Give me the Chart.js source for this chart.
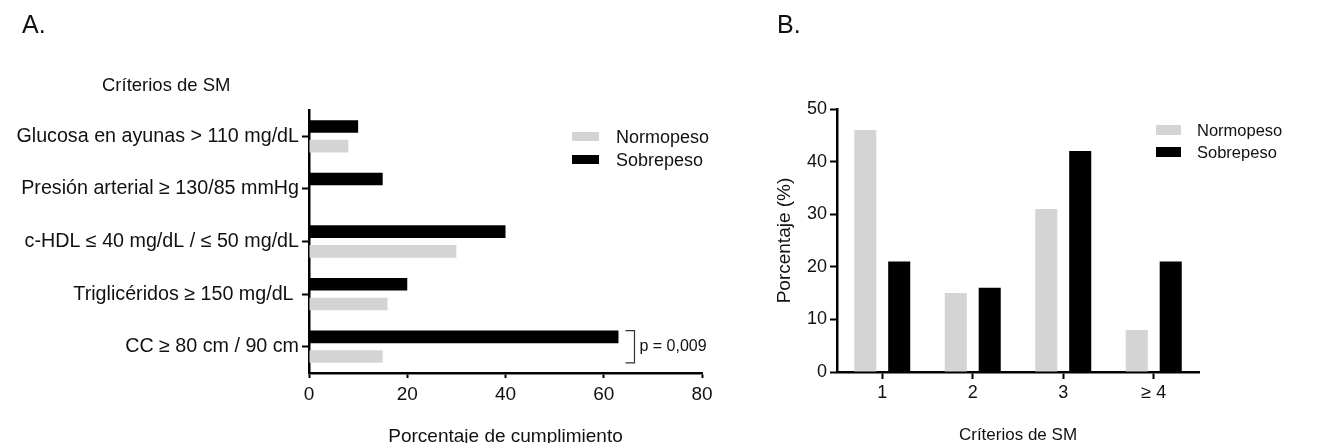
<!DOCTYPE html>
<html><head><meta charset="utf-8">
<script src="https://cdn.jsdelivr.net/npm/chart.js@4.4.0/dist/chart.umd.min.js"></script>
<style>
html,body{margin:0;padding:0;background:#fff;overflow:hidden;width:1328px;height:443px;}
body{position:relative;font-family:"Liberation Sans",Arial,sans-serif;color:#111;}
.abs{position:absolute;white-space:nowrap;}
#ca{position:absolute;left:0;top:0;}
#cb{position:absolute;left:760px;top:0;}
.panel{font-size:25px;line-height:25px;}
.sw{position:absolute;}
</style></head><body>
<canvas id="ca" width="760" height="460"></canvas>
<canvas id="cb" width="568" height="460"></canvas>
<div class="abs panel" style="left:22px;top:12px;">A.</div>
<div class="abs panel" style="left:777px;top:12px;">B.</div>
<div class="abs" id="titleA" style="left:102px;top:76px;font-size:18.5px;line-height:18px;"></div>
<div id="legA"></div>
<div id="legB"></div>
<script>
// ---- data ----
const seriesNames = ['Normopeso', 'Sobrepeso'];
const seriesColors = ['#d4d4d4', '#000000'];
const criteriaTitle = 'Críterios de SM';
const criteriaLabels = ['Glucosa en ayunas > 110 mg/dL', 'Presión arterial ≥ 130/85 mmHg', 'c-HDL ≤ 40 mg/dL / ≤ 50 mg/dL', 'Triglicéridos ≥ 150 mg/dL ', 'CC ≥ 80 cm / 90 cm'];
const criteriaNormopeso = [8, 0, 30, 16, 15];
const criteriaSobrepeso = [10, 15, 40, 20, 63];
const xTicksA = [0, 20, 40, 60, 80];
const xTitleA = 'Porcentaje de cumplimiento';
const pValueText = 'p = 0,009';
const countLabels = ['1', '2', '3', '≥ 4'];
const countNormopeso = [46, 15, 31, 8];
const countSobrepeso = [21, 16, 42, 21];
const yTicksB = [0, 10, 20, 30, 40, 50];
const yTitleB = 'Porcentaje (%)';
const xTitleB = 'Críterios de SM';

Chart.defaults.font.family = '"Liberation Sans", Arial, sans-serif';
Chart.defaults.color = '#111';
Chart.defaults.animation = false;

document.getElementById('titleA').textContent = criteriaTitle;

function makeLegend(id, left, swW, swH, textLeft, centers, fontSize) {
  const el = document.getElementById(id);
  seriesNames.forEach((n, i) => {
    const sw = document.createElement('div');
    sw.className = 'sw';
    sw.style.cssText = `left:${left}px;top:${centers[i] - swH / 2}px;width:${swW}px;height:${swH}px;background:${seriesColors[i]};`;
    el.appendChild(sw);
    const t = document.createElement('div');
    t.className = 'abs';
    t.style.cssText = `left:${textLeft}px;top:${centers[i] - fontSize / 2}px;font-size:${fontSize}px;line-height:${fontSize}px;`;
    t.textContent = n;
    el.appendChild(t);
  });
}
makeLegend('legA', 572, 27, 9, 616, [136.5, 159.5], 18);
makeLegend('legB', 1156, 25, 10, 1197, [130, 152], 16.5);

const bracketPlugin = {
  id: 'bracket',
  afterDraw(chart) {
    const ctx = chart.ctx;
    const last = criteriaLabels.length - 1;
    const mS = chart.getDatasetMeta(0).data[last];
    const mN = chart.getDatasetMeta(1).data[last];
    const top = mS.y - mS.height / 2;
    const bot = mN.y + mN.height / 2;
    const xEnd = Math.max(mS.x, mN.x);
    const x0 = xEnd + 7, x1 = xEnd + 16;
    ctx.save();
    ctx.strokeStyle = '#333';
    ctx.lineWidth = 1.2;
    ctx.beginPath();
    ctx.moveTo(x0, top); ctx.lineTo(x1, top); ctx.lineTo(x1, bot); ctx.lineTo(x0, bot);
    ctx.stroke();
    ctx.fillStyle = '#111';
    ctx.font = '16px "Liberation Sans", Arial, sans-serif';
    ctx.textBaseline = 'middle';
    ctx.fillText(pValueText, x1 + 5, (top + bot) / 2);
    ctx.restore();
  }
};

const axisBorder = { display: true, color: '#000', width: 2.5 };

new Chart(document.getElementById('ca'), {
  type: 'bar',
  data: {
    labels: criteriaLabels,
    datasets: [
      { label: seriesNames[1], data: criteriaSobrepeso, backgroundColor: seriesColors[1], borderWidth: 0 },
      { label: seriesNames[0], data: criteriaNormopeso, backgroundColor: seriesColors[0], borderWidth: 0 }
    ]
  },
  options: {
    indexAxis: 'y',
    responsive: false,
    categoryPercentage: 0.75,
    barPercentage: 0.64,
    layout: { padding: { top: 110, right: 58, bottom: 0, left: 0 } },
    plugins: { legend: { display: false }, tooltip: { enabled: false } },
    scales: {
      x: {
        type: 'linear', min: xTicksA[0], max: xTicksA[xTicksA.length - 1],
        afterBuildTicks(s) { s.ticks = xTicksA.map(v => ({ value: v })); },
        ticks: { color: '#111', font: { size: 19 }, padding: 5 },
        grid: { display: true, drawOnChartArea: false, drawTicks: true, tickLength: 5, tickWidth: 2, tickColor: '#000' },
        border: axisBorder,
        title: { display: true, text: xTitleA, font: { size: 19 }, color: '#111', padding: { top: 0, bottom: 12 } },
        afterFit(s) { s.height = 87; }
      },
      y: {
        type: 'category', offset: true,
        ticks: { color: '#111', font: { size: 19.7 }, padding: 3 },
        grid: { display: true, offset: false, drawOnChartArea: false, drawTicks: true, tickLength: 7, tickWidth: 2, tickColor: '#000' },
        border: axisBorder,
        afterFit(s) { s.width = 309; }
      }
    }
  },
  plugins: [bracketPlugin]
});

new Chart(document.getElementById('cb'), {
  type: 'bar',
  data: {
    labels: countLabels,
    datasets: [
      { label: seriesNames[0], data: countNormopeso, backgroundColor: seriesColors[0], borderWidth: 0 },
      { label: seriesNames[1], data: countSobrepeso, backgroundColor: seriesColors[1], borderWidth: 0 }
    ]
  },
  options: {
    responsive: false,
    categoryPercentage: 0.75,
    barPercentage: 0.65,
    layout: { padding: { top: 109, right: 129, bottom: 0, left: 0 } },
    plugins: { legend: { display: false }, tooltip: { enabled: false } },
    scales: {
      x: {
        type: 'category', offset: true,
        ticks: { color: '#111', font: { size: 18 }, padding: 3 },
        grid: { display: true, offset: false, drawOnChartArea: false, drawTicks: true, tickLength: 7, tickWidth: 2, tickColor: '#000' },
        border: axisBorder,
        title: { display: true, text: xTitleB, font: { size: 17 }, color: '#111', padding: { top: 0, bottom: 14 } },
        afterFit(s) { s.height = 88; }
      },
      y: {
        type: 'linear', min: yTicksB[0], max: yTicksB[yTicksB.length - 1],
        afterBuildTicks(s) { s.ticks = yTicksB.map(v => ({ value: v })); },
        ticks: { color: '#111', font: { size: 18 }, padding: 3 },
        grid: { display: true, drawOnChartArea: false, drawTicks: true, tickLength: 7, tickWidth: 2, tickColor: '#000' },
        border: axisBorder,
        title: { display: true, text: yTitleB, font: { size: 19 }, color: '#111', padding: { top: 13, bottom: 0 } },
        afterFit(s) { s.width = 77; }
      }
    }
  }
});
</script>
</body></html>
